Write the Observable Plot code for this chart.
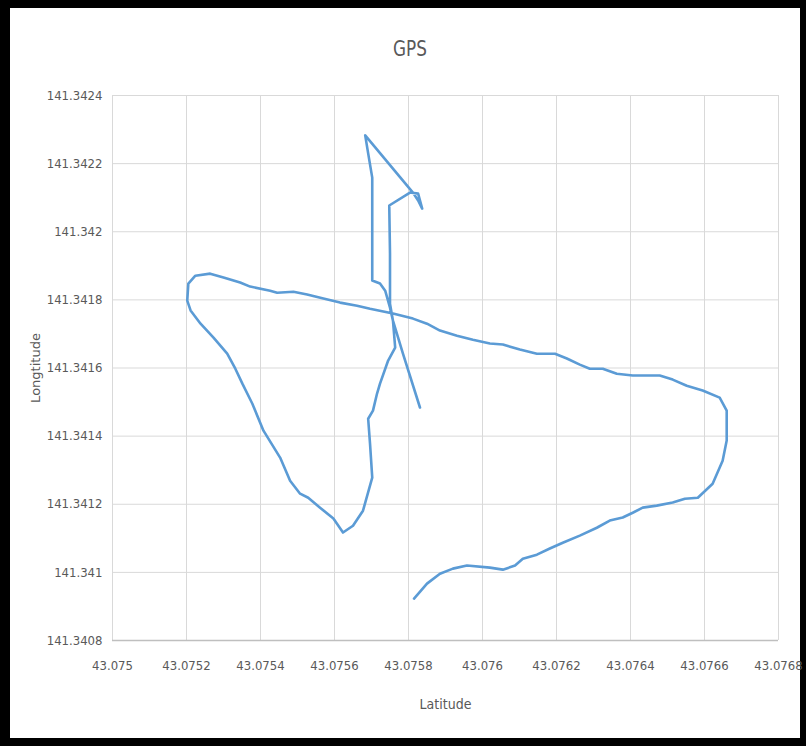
<!DOCTYPE html>
<html>
<head>
<meta charset="utf-8">
<script src="https://cdn.jsdelivr.net/npm/d3@7"></script>
<script src="https://cdn.jsdelivr.net/npm/@observablehq/plot@0.6"></script>
<style>
  html, body { margin: 0; padding: 0; background: #000; width: 806px; height: 746px; overflow: hidden; }
  #panel { position: absolute; left: 10px; top: 8px; width: 790px; height: 730px; background: #fff; }
  #chart { position: absolute; left: 0; top: 0; width: 806px; }
  #title { position: relative; height: 80px; }
  #title span { position: absolute; left: 410px; top: 34px; transform: translateX(-50%) scaleX(0.85);
    font-family: "DejaVu Sans Condensed", "DejaVu Sans", sans-serif; font-stretch: condensed; font-size: 22px; color: #595959; line-height: 30px; }
  svg { display: block; background: transparent; }
  svg text { font-family: "DejaVu Sans Condensed", "DejaVu Sans", sans-serif; font-stretch: condensed; }
  svg [aria-label="y-axis label"] text { font-family: "DejaVu Sans", sans-serif; font-stretch: normal; font-size: 13px; }
  svg [aria-label="x-axis label"] text { font-size: 14px; }
</style>
</head>
<body>
<div id="panel"></div>
<div id="chart"><div id="title"><span>GPS</span></div></div>
<script>
const xTicks = [43.075, 43.0752, 43.0754, 43.0756, 43.0758, 43.076, 43.0762, 43.0764, 43.0766, 43.0768];
const yTicks = [141.3408, 141.341, 141.3412, 141.3414, 141.3416, 141.3418, 141.342, 141.3422, 141.3424];

const latitude = [
  43.075815, 43.075850, 43.075885, 43.075920, 43.075958, 43.076020, 43.076055, 43.076088, 43.076109, 43.076147,
  43.076182, 43.076217, 43.076263, 43.076309, 43.076344, 43.076379, 43.076406, 43.076433, 43.076471, 43.076514,
  43.076547, 43.076582, 43.076622, 43.076649, 43.076660, 43.076660, 43.076641, 43.076595, 43.076552, 43.076514,
  43.076479, 43.076406, 43.076363, 43.076325, 43.076290, 43.076263, 43.076228, 43.076196, 43.076147, 43.076101,
  43.076055, 43.076020, 43.075974, 43.075931, 43.075885, 43.075850, 43.075812, 43.075758, 43.075696, 43.075661,
  43.075615, 43.075570, 43.075526, 43.075489, 43.075445, 43.075426, 43.075372, 43.075345, 43.075300, 43.075264,
  43.075224, 43.075205, 43.075202, 43.075211, 43.075238, 43.075273, 43.075310, 43.075332, 43.075351, 43.075378,
  43.075408, 43.075453, 43.075480, 43.075507, 43.075529, 43.075561, 43.075597, 43.075623, 43.075650, 43.075677,
  43.075702, 43.075696, 43.075691, 43.075704, 43.075715, 43.075723, 43.075745, 43.075764, 43.075758, 43.075750,
  43.075750, 43.075748, 43.075804, 43.075826, 43.075837, 43.075826, 43.075812, 43.075683, 43.075691, 43.075702,
  43.075702, 43.075723, 43.075737, 43.075750, 43.075758, 43.075785, 43.075831
];
const longitude = [
  141.340923, 141.340967, 141.340996, 141.341011, 141.341020, 141.341014, 141.341008, 141.341020, 141.341040, 141.341052,
  141.341070, 141.341087, 141.341108, 141.341131, 141.341152, 141.341161, 141.341175, 141.341190, 141.341196, 141.341205,
  141.341216, 141.341219, 141.341260, 141.341328, 141.341387, 141.341475, 141.341513, 141.341534, 141.341548, 141.341566,
  141.341578, 141.341578, 141.341583, 141.341598, 141.341598, 141.341610, 141.341628, 141.341642, 141.341642, 141.341654,
  141.341669, 141.341672, 141.341683, 141.341695, 141.341710, 141.341730, 141.341745, 141.341760, 141.341774, 141.341783,
  141.341792, 141.341804, 141.341816, 141.341824, 141.341821, 141.341827, 141.341839, 141.341851, 141.341866, 141.341877,
  141.341871, 141.341848, 141.341798, 141.341769, 141.341730, 141.341689, 141.341642, 141.341598, 141.341554, 141.341495,
  141.341416, 141.341337, 141.341269, 141.341231, 141.341219, 141.341190, 141.341158, 141.341117, 141.341137, 141.341181,
  141.341278, 141.341378, 141.341451, 141.341475, 141.341525, 141.341554, 141.341622, 141.341660, 141.341739, 141.341789,
  141.341936, 141.342077, 141.342115, 141.342112, 141.342068, 141.342092, 141.342115, 141.342283, 141.342230, 141.342159,
  141.341857, 141.341848, 141.341827, 141.341777, 141.341739, 141.341642, 141.341484
];

const track = latitude.map((lat, i) => ({lat, lon: longitude[i]}));

const chart = Plot.plot({
  width: 806,
  height: 650,
  marginLeft: 112,
  marginRight: 28,
  marginTop: 15,
  marginBottom: 90,
  style: {background: "transparent", color: "#595959", fontSize: "13px"},
  x: {domain: [43.075, 43.0768]},
  y: {domain: [141.3408, 141.3424]},
  marks: [
    Plot.gridX(xTicks, {stroke: "#d9d9d9", strokeOpacity: 1, strokeWidth: 1}),
    Plot.gridY(yTicks, {stroke: "#d9d9d9", strokeOpacity: 1, strokeWidth: 1}),
    Plot.ruleY([yTicks[0]], {stroke: "#bfbfbf", strokeWidth: 1.3}),
    Plot.axisX(xTicks, {tickSize: 0, tickPadding: 20, tickFormat: d => String(d), fill: "#595959",
      label: "Latitude", labelArrow: "none", labelAnchor: "center", labelOffset: 68, fontSize: 13}),
    Plot.axisY(yTicks, {tickSize: 0, tickPadding: 10, tickFormat: d => String(d), fill: "#595959",
      label: "Longtitude", labelArrow: "none", labelAnchor: "center", labelOffset: 82, fontSize: 13}),
    Plot.line(track, {x: "lat", y: "lon", stroke: "#5b9bd5", strokeWidth: 2.6, strokeLinejoin: "round", strokeLinecap: "round"})
  ]
});
document.getElementById("chart").appendChild(chart);
</script>
</body>
</html>
